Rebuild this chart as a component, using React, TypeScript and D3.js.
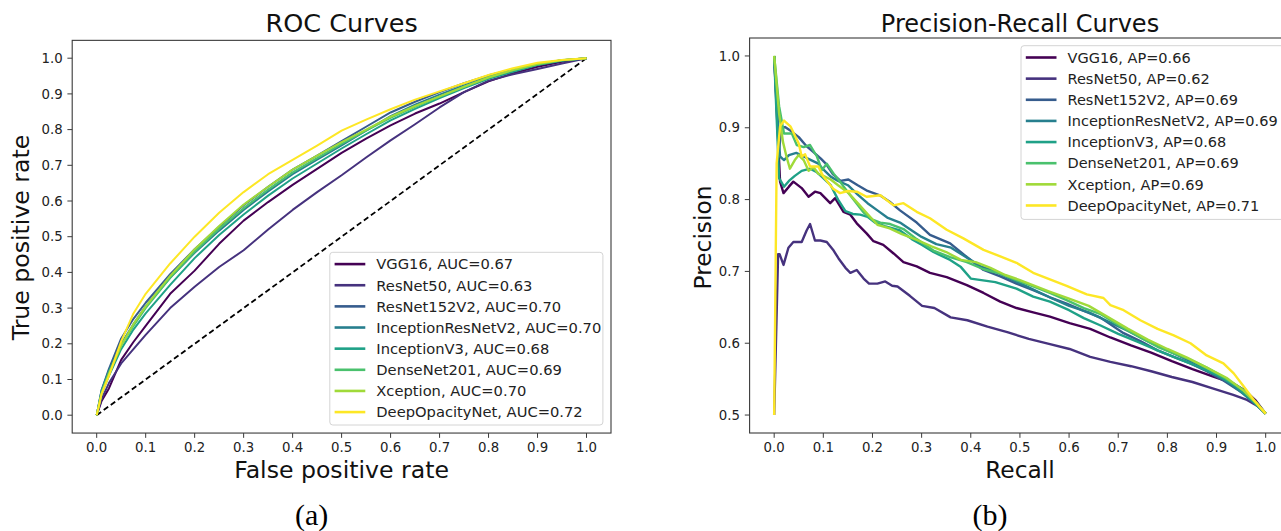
import React from 'react';
import * as d3 from 'd3';

const models = ['VGG16', 'ResNet50', 'ResNet152V2', 'InceptionResNetV2', 'InceptionV3', 'DenseNet201', 'Xception', 'DeepOpacityNet'];
const aucValues = [0.67, 0.63, 0.70, 0.70, 0.68, 0.69, 0.70, 0.72];
const apValues = [0.66, 0.62, 0.69, 0.69, 0.68, 0.69, 0.69, 0.71];
const axisTicks = [0, 0.1, 0.2, 0.3, 0.4, 0.5, 0.6, 0.7, 0.8, 0.9, 1.0];
const prYTicks = [0.5, 0.6, 0.7, 0.8, 0.9, 1.0];

// ROC: shared false positive rate grid, one tpr list per model
const rocFpr = [0, 0.01, 0.025, 0.05, 0.075, 0.1, 0.15, 0.2, 0.25, 0.3, 0.35, 0.4, 0.45, 0.5, 0.55, 0.6, 0.65, 0.7, 0.75, 0.8, 0.85, 0.9, 0.95, 1];
const rocVGG16 = [0, 0.04, 0.075, 0.155, 0.205, 0.25, 0.34, 0.405, 0.48, 0.545, 0.597, 0.645, 0.69, 0.735, 0.775, 0.812, 0.845, 0.873, 0.905, 0.935, 0.958, 0.976, 0.99, 1];
const rocResNet50 = [0, 0.045, 0.09, 0.145, 0.185, 0.225, 0.3, 0.36, 0.415, 0.462, 0.52, 0.575, 0.625, 0.672, 0.722, 0.77, 0.815, 0.862, 0.905, 0.937, 0.955, 0.97, 0.985, 1];
const rocResNet152V2 = [0, 0.07, 0.13, 0.215, 0.27, 0.315, 0.395, 0.465, 0.528, 0.588, 0.64, 0.688, 0.727, 0.768, 0.808, 0.848, 0.878, 0.905, 0.93, 0.952, 0.969, 0.984, 0.994, 1];
const rocInceptionResNetV2 = [0, 0.07, 0.125, 0.2, 0.255, 0.305, 0.385, 0.455, 0.517, 0.575, 0.627, 0.675, 0.716, 0.756, 0.797, 0.838, 0.87, 0.898, 0.924, 0.948, 0.967, 0.983, 0.994, 1];
const rocInceptionV3 = [0, 0.06, 0.11, 0.185, 0.24, 0.285, 0.365, 0.44, 0.505, 0.562, 0.615, 0.663, 0.705, 0.747, 0.787, 0.826, 0.858, 0.888, 0.916, 0.942, 0.962, 0.981, 0.993, 1];
const rocDenseNet201 = [0, 0.065, 0.12, 0.195, 0.25, 0.3, 0.385, 0.458, 0.522, 0.58, 0.632, 0.68, 0.72, 0.76, 0.797, 0.833, 0.864, 0.892, 0.92, 0.946, 0.966, 0.983, 0.994, 1];
const rocXception = [0, 0.06, 0.115, 0.195, 0.255, 0.305, 0.39, 0.465, 0.53, 0.59, 0.64, 0.688, 0.727, 0.765, 0.8, 0.836, 0.866, 0.893, 0.92, 0.946, 0.967, 0.984, 0.995, 1];
const rocDeepOpacityNet = [0, 0.06, 0.11, 0.207, 0.285, 0.34, 0.425, 0.5, 0.567, 0.625, 0.675, 0.715, 0.755, 0.797, 0.828, 0.857, 0.884, 0.907, 0.93, 0.953, 0.972, 0.987, 0.995, 1];
const rocTpr = [rocVGG16, rocResNet50, rocResNet152V2, rocInceptionResNetV2, rocInceptionV3, rocDenseNet201, rocXception, rocDeepOpacityNet];

// PR: [recall, precision] per model
const prVGG16 = [[0, 1.0], [0.012, 0.825], [0.019, 0.809], [0.03, 0.818], [0.039, 0.825], [0.056, 0.816], [0.07, 0.804], [0.083, 0.811], [0.094, 0.809], [0.114, 0.795], [0.124, 0.802], [0.141, 0.783], [0.155, 0.779], [0.168, 0.767], [0.188, 0.753], [0.202, 0.742], [0.222, 0.737], [0.243, 0.725], [0.263, 0.713], [0.29, 0.707], [0.317, 0.698], [0.351, 0.692], [0.392, 0.681], [0.426, 0.67], [0.46, 0.658], [0.493, 0.649], [0.527, 0.643], [0.561, 0.637], [0.601, 0.628], [0.643, 0.62], [0.684, 0.608], [0.726, 0.597], [0.767, 0.587], [0.809, 0.575], [0.851, 0.564], [0.892, 0.554], [0.934, 0.544], [0.958, 0.534], [0.98, 0.52], [1.0, 0.502]];
const prResNet50 = [[0, 0.5], [0.008, 0.724], [0.011, 0.724], [0.019, 0.709], [0.029, 0.733], [0.039, 0.741], [0.056, 0.741], [0.066, 0.757], [0.073, 0.766], [0.083, 0.743], [0.094, 0.743], [0.107, 0.741], [0.121, 0.729], [0.131, 0.718], [0.145, 0.705], [0.155, 0.698], [0.168, 0.702], [0.182, 0.69], [0.193, 0.683], [0.21, 0.683], [0.226, 0.686], [0.24, 0.68], [0.251, 0.679], [0.276, 0.666], [0.301, 0.652], [0.326, 0.649], [0.359, 0.636], [0.393, 0.632], [0.434, 0.623], [0.476, 0.615], [0.518, 0.606], [0.559, 0.599], [0.601, 0.592], [0.643, 0.581], [0.684, 0.574], [0.726, 0.568], [0.767, 0.561], [0.809, 0.553], [0.851, 0.546], [0.892, 0.537], [0.934, 0.528], [0.962, 0.521], [0.985, 0.512], [1.0, 0.502]];
const prResNet152V2 = [[0, 1.0], [0.01, 0.87], [0.015, 0.9], [0.022, 0.901], [0.035, 0.895], [0.05, 0.887], [0.065, 0.875], [0.08, 0.866], [0.095, 0.857], [0.105, 0.85], [0.12, 0.835], [0.135, 0.826], [0.151, 0.828], [0.17, 0.82], [0.19, 0.812], [0.215, 0.806], [0.235, 0.797], [0.256, 0.785], [0.29, 0.768], [0.317, 0.751], [0.358, 0.739], [0.392, 0.72], [0.426, 0.702], [0.46, 0.693], [0.493, 0.683], [0.527, 0.674], [0.561, 0.664], [0.595, 0.655], [0.63, 0.645], [0.663, 0.636], [0.711, 0.614], [0.745, 0.603], [0.78, 0.59], [0.813, 0.581], [0.847, 0.572], [0.88, 0.561], [0.914, 0.548], [0.955, 0.53], [0.98, 0.515], [1.0, 0.502]];
const prInceptionResNetV2 = [[0, 1.0], [0.008, 0.9], [0.012, 0.86], [0.02, 0.855], [0.03, 0.862], [0.045, 0.865], [0.06, 0.86], [0.075, 0.855], [0.09, 0.85], [0.1, 0.842], [0.115, 0.832], [0.13, 0.826], [0.15, 0.82], [0.17, 0.807], [0.19, 0.795], [0.21, 0.785], [0.23, 0.775], [0.256, 0.768], [0.28, 0.757], [0.3, 0.748], [0.33, 0.738], [0.36, 0.733], [0.39, 0.72], [0.42, 0.707], [0.45, 0.7], [0.48, 0.69], [0.52, 0.677], [0.56, 0.664], [0.6, 0.652], [0.64, 0.643], [0.68, 0.63], [0.72, 0.617], [0.76, 0.603], [0.8, 0.59], [0.84, 0.577], [0.88, 0.565], [0.92, 0.548], [0.95, 0.532], [0.98, 0.515], [1.0, 0.502]];
const prInceptionV3 = [[0, 1.0], [0.01, 0.83], [0.02, 0.818], [0.03, 0.826], [0.042, 0.833], [0.056, 0.84], [0.073, 0.843], [0.087, 0.838], [0.1, 0.83], [0.115, 0.82], [0.13, 0.8], [0.145, 0.784], [0.16, 0.78], [0.175, 0.779], [0.19, 0.776], [0.205, 0.768], [0.225, 0.763], [0.256, 0.757], [0.28, 0.745], [0.3, 0.737], [0.324, 0.727], [0.358, 0.716], [0.38, 0.706], [0.4, 0.69], [0.45, 0.685], [0.493, 0.676], [0.527, 0.665], [0.561, 0.658], [0.6, 0.646], [0.63, 0.635], [0.663, 0.625], [0.7, 0.613], [0.74, 0.602], [0.78, 0.59], [0.82, 0.579], [0.86, 0.568], [0.9, 0.556], [0.94, 0.54], [0.97, 0.522], [1.0, 0.502]];
const prDenseNet201 = [[0, 1.0], [0.01, 0.93], [0.02, 0.892], [0.036, 0.892], [0.046, 0.876], [0.06, 0.873], [0.073, 0.876], [0.087, 0.86], [0.097, 0.841], [0.107, 0.85], [0.121, 0.836], [0.135, 0.824], [0.148, 0.812], [0.165, 0.797], [0.182, 0.782], [0.2, 0.772], [0.216, 0.768], [0.236, 0.766], [0.263, 0.759], [0.29, 0.745], [0.324, 0.729], [0.358, 0.72], [0.392, 0.713], [0.426, 0.703], [0.46, 0.697], [0.493, 0.688], [0.527, 0.679], [0.561, 0.67], [0.595, 0.66], [0.63, 0.649], [0.663, 0.641], [0.711, 0.621], [0.745, 0.608], [0.78, 0.595], [0.813, 0.586], [0.847, 0.577], [0.88, 0.566], [0.914, 0.553], [0.955, 0.535], [0.98, 0.518], [1.0, 0.502]];
const prXception = [[0, 1.0], [0.01, 0.92], [0.018, 0.88], [0.025, 0.86], [0.032, 0.843], [0.042, 0.855], [0.05, 0.862], [0.06, 0.855], [0.07, 0.84], [0.08, 0.845], [0.09, 0.836], [0.1, 0.833], [0.115, 0.828], [0.13, 0.82], [0.15, 0.81], [0.17, 0.795], [0.19, 0.78], [0.21, 0.765], [0.235, 0.76], [0.26, 0.752], [0.29, 0.744], [0.32, 0.735], [0.35, 0.727], [0.38, 0.716], [0.41, 0.713], [0.44, 0.705], [0.47, 0.695], [0.5, 0.688], [0.53, 0.68], [0.56, 0.672], [0.6, 0.662], [0.64, 0.652], [0.68, 0.636], [0.72, 0.62], [0.76, 0.605], [0.8, 0.592], [0.84, 0.58], [0.88, 0.566], [0.92, 0.552], [0.955, 0.534], [0.98, 0.517], [1.0, 0.502]];
const prDeepOpacityNet = [[0, 0.5], [0.005, 0.85], [0.012, 0.902], [0.02, 0.91], [0.033, 0.902], [0.05, 0.878], [0.056, 0.86], [0.063, 0.863], [0.073, 0.846], [0.09, 0.846], [0.1, 0.832], [0.12, 0.815], [0.134, 0.809], [0.15, 0.812], [0.168, 0.811], [0.188, 0.804], [0.216, 0.806], [0.243, 0.792], [0.263, 0.795], [0.29, 0.783], [0.317, 0.774], [0.351, 0.758], [0.385, 0.746], [0.426, 0.73], [0.46, 0.721], [0.493, 0.712], [0.527, 0.698], [0.561, 0.689], [0.595, 0.68], [0.636, 0.668], [0.67, 0.663], [0.684, 0.653], [0.711, 0.646], [0.745, 0.632], [0.78, 0.62], [0.813, 0.611], [0.847, 0.6], [0.88, 0.583], [0.914, 0.572], [0.935, 0.558], [0.955, 0.54], [0.976, 0.521], [1.0, 0.502]];
const prCurves = [prVGG16, prResNet50, prResNet152V2, prInceptionResNetV2, prInceptionV3, prDenseNet201, prXception, prDeepOpacityNet];

const FONT = '"DejaVu Sans", sans-serif';
const colors = models.map((_, i) => d3.interpolateViridis(i / (models.length - 1)));
const fmt = d3.format('.1f');

type Axes = {
  x: d3.ScaleLinear<number, number>;
  y: d3.ScaleLinear<number, number>;
};

const Frame = ({ x, y, xTicks, yTicks }: Axes & { xTicks: number[]; yTicks: number[] }) => {
  const [x0, x1] = x.range();
  const [y1, y0] = y.range();
  return (
    <g>
      <rect x={x0} y={y0} width={x1 - x0} height={y1 - y0} fill="none" stroke="#3a3a3a" strokeWidth={1.1} />
      {xTicks.map(t => (
        <g key={'x' + t} transform={`translate(${x(t)},${y1})`}>
          <line y2={4.8} stroke="#3a3a3a" strokeWidth={1} />
          <text y={19} textAnchor="middle" fontSize={13.3} fill="#222" fontFamily={FONT}>{fmt(t)}</text>
        </g>
      ))}
      {yTicks.map(t => (
        <g key={'y' + t} transform={`translate(${x0},${y(t)})`}>
          <line x2={-4.8} stroke="#3a3a3a" strokeWidth={1} />
          <text x={-9.6} dy="0.35em" textAnchor="end" fontSize={13.3} fill="#222" fontFamily={FONT}>{fmt(t)}</text>
        </g>
      ))}
    </g>
  );
};

const Legend = ({ x, y, width, height, labels, fontSize }: { x: number; y: number; width: number; height: number; labels: string[]; fontSize: number }) => (
  <g>
    <rect x={x} y={y} width={width} height={height} rx={3} fill="#fff" fillOpacity={0.8} stroke="#d4d4d4" strokeWidth={1} />
    {labels.map((lab, i) => {
      const cy = y + 11.8 + i * 21.14;
      return (
        <g key={lab}>
          <line x1={x + 4.8} x2={x + 35.5} y1={cy} y2={cy} stroke={colors[i]} strokeWidth={2.6} />
          <text x={x + 46.5} y={cy} dy="0.36em" fontSize={fontSize} fill="#222" fontFamily={FONT}>{lab}</text>
        </g>
      );
    })}
  </g>
);

export default function App() {
  const xRoc = d3.scaleLinear().domain([-0.05, 1.05]).range([72.2, 611]);
  const yRoc = d3.scaleLinear().domain([-0.05, 1.05]).range([433.05, 40.35]);
  const xPr = d3.scaleLinear().domain([-0.05, 1.05]).range([749.6, 1290.25]);
  const yPr = d3.scaleLinear().domain([0.475, 1.025]).range([433, 38]);

  const rocLine = d3.line<number>().x((_, i) => xRoc(rocFpr[i])).y(d => yRoc(d));
  const prLine = d3.line<number[]>().x(d => xPr(d[0])).y(d => yPr(d[1]));

  return (
    <svg width={1281} height={531} style={{ position: 'absolute', left: 0, top: 0, background: '#fff' }}>
      <defs>
        <clipPath id="clipRoc"><rect x={72.2} y={40.35} width={538.8} height={392.7} /></clipPath>
        <clipPath id="clipPr"><rect x={749.6} y={38} width={540.65} height={395} /></clipPath>
      </defs>

      {/* (a) ROC */}
      <text x={341.6} y={32} textAnchor="middle" fontSize={25.5} fill="#111" fontFamily={FONT}>ROC Curves</text>
      <g clipPath="url(#clipRoc)">
        <line x1={xRoc(0)} y1={yRoc(0)} x2={xRoc(1)} y2={yRoc(1)} stroke="#000" strokeWidth={1.8} strokeDasharray="5.5,3.2" />
        {rocTpr.map((tpr, i) => (
          <path key={models[i]} d={rocLine(tpr) || ''} fill="none" stroke={colors[i]} strokeWidth={2} strokeLinejoin="round" />
        ))}
      </g>
      <Frame x={xRoc} y={yRoc} xTicks={axisTicks} yTicks={axisTicks} />
      <Legend x={329.8} y={252.3} width={273.1} height={172.7} fontSize={14.7} labels={models.map((m, i) => `${m}, AUC=${aucValues[i].toFixed(2)}`)} />
      <text x={341.6} y={478} textAnchor="middle" fontSize={23.6} fill="#111" fontFamily={FONT}>False positive rate</text>
      <text transform="translate(29,237.5) rotate(-90)" textAnchor="middle" fontSize={23.6} fill="#111" fontFamily={FONT}>True positive rate</text>
      <text x={311.6} y={525} textAnchor="middle" fontSize={30} fill="#000" fontFamily='"Liberation Serif", "Times New Roman", serif'>(a)</text>

      {/* (b) Precision-Recall */}
      <text x={1020} y={32} textAnchor="middle" fontSize={24} fill="#111" fontFamily={FONT}>Precision-Recall Curves</text>
      <g clipPath="url(#clipPr)">
        {prCurves.map((pts, i) => (
          <path key={models[i]} d={prLine(pts) || ''} fill="none" stroke={colors[i]} strokeWidth={2.4} strokeLinejoin="round" />
        ))}
      </g>
      <Frame x={xPr} y={yPr} xTicks={axisTicks} yTicks={prYTicks} />
      <Legend x={1021} y={45.7} width={270} height={173.7} fontSize={14.5} labels={models.map((m, i) => `${m}, AP=${apValues[i].toFixed(2)}`)} />
      <text x={1020} y={478} textAnchor="middle" fontSize={23.3} fill="#111" fontFamily={FONT}>Recall</text>
      <text transform="translate(711,237.5) rotate(-90)" textAnchor="middle" fontSize={23.3} fill="#111" fontFamily={FONT}>Precision</text>
      <text x={990} y={525} textAnchor="middle" fontSize={30} fill="#000" fontFamily='"Liberation Serif", "Times New Roman", serif'>(b)</text>
    </svg>
  );
}
